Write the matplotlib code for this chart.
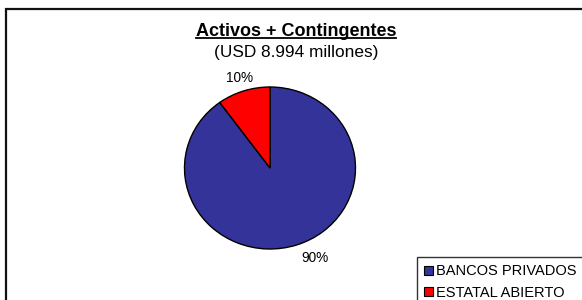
import matplotlib
matplotlib.use("Agg")
import matplotlib.pyplot as plt
from matplotlib.patches import Rectangle
from matplotlib.lines import Line2D
import numpy as np

plt.rcParams['font.family'] = ['Liberation Sans', 'DejaVu Sans']

categories = ["BANCOS PRIVADOS", "ESTATAL ABIERTO"]
values = [90, 10]
colors = ["#333399", "#FF0000"]
title = "Activos + Contingentes"
subtitle = "(USD 8.994 millones)"

W, H = 582, 300
fig = plt.figure(figsize=(W / 100, H / 100), dpi=100)
fig.patch.set_facecolor("white")

# outer frame (extends past right and bottom edges)
fig.patches.append(Rectangle((6 / W, -0.1), 1.2, (H - 9) / H + 0.1,
                             transform=fig.transFigure, fill=False,
                             lw=1.6, ec="#111111"))

cx, cy, rx, ry = 270, 168, 85.5, 81
ax = fig.add_axes([(cx - rx) / W, (H - cy - ry) / H, 2 * rx / W, 2 * ry / H])
wedges, _, autotexts = ax.pie(values, colors=colors, startangle=90, counterclock=False,
                              autopct=lambda p: f"{p:.0f}%", pctdistance=1.17,
                              wedgeprops=dict(edgecolor="black", linewidth=1.0),
                              textprops=dict(fontsize=9.8, color="black"))
ax.set_xlim(-1, 1)
ax.set_ylim(-1, 1)
ax.set_aspect("auto")
ax.axis("off")
autotexts[0].set_ha("left")

# title with underline
t = fig.text(296 / W, 1 - 31 / H, title, ha="center", va="center",
             fontsize=13, fontweight="bold")
fig.text(296 / W, 1 - 52 / H, subtitle, ha="center", va="center", fontsize=12.4)
fig.canvas.draw()
bb = t.get_window_extent(renderer=fig.canvas.get_renderer())
uy = bb.y0 + 1.5
fig.add_artist(Line2D([bb.x0 / W, bb.x1 / W], [uy / H, uy / H],
                      transform=fig.transFigure, color="black", lw=1.3))

handles = [Rectangle((0, 0), 1, 1, fc=c, ec="black", lw=0.8) for c in colors]
leg = ax.legend(handles, categories, loc="upper left",
                bbox_to_anchor=(417 / W, 1 - 257 / H), bbox_transform=fig.transFigure,
                borderaxespad=0, frameon=True, fancybox=False, edgecolor="black",
                fontsize=10.5, handlelength=0.6, handleheight=0.6, handletextpad=0.2,
                borderpad=0.5, labelspacing=0.5)
leg.get_frame().set_linewidth(1.0)

fig.savefig("out.png", dpi=100)
